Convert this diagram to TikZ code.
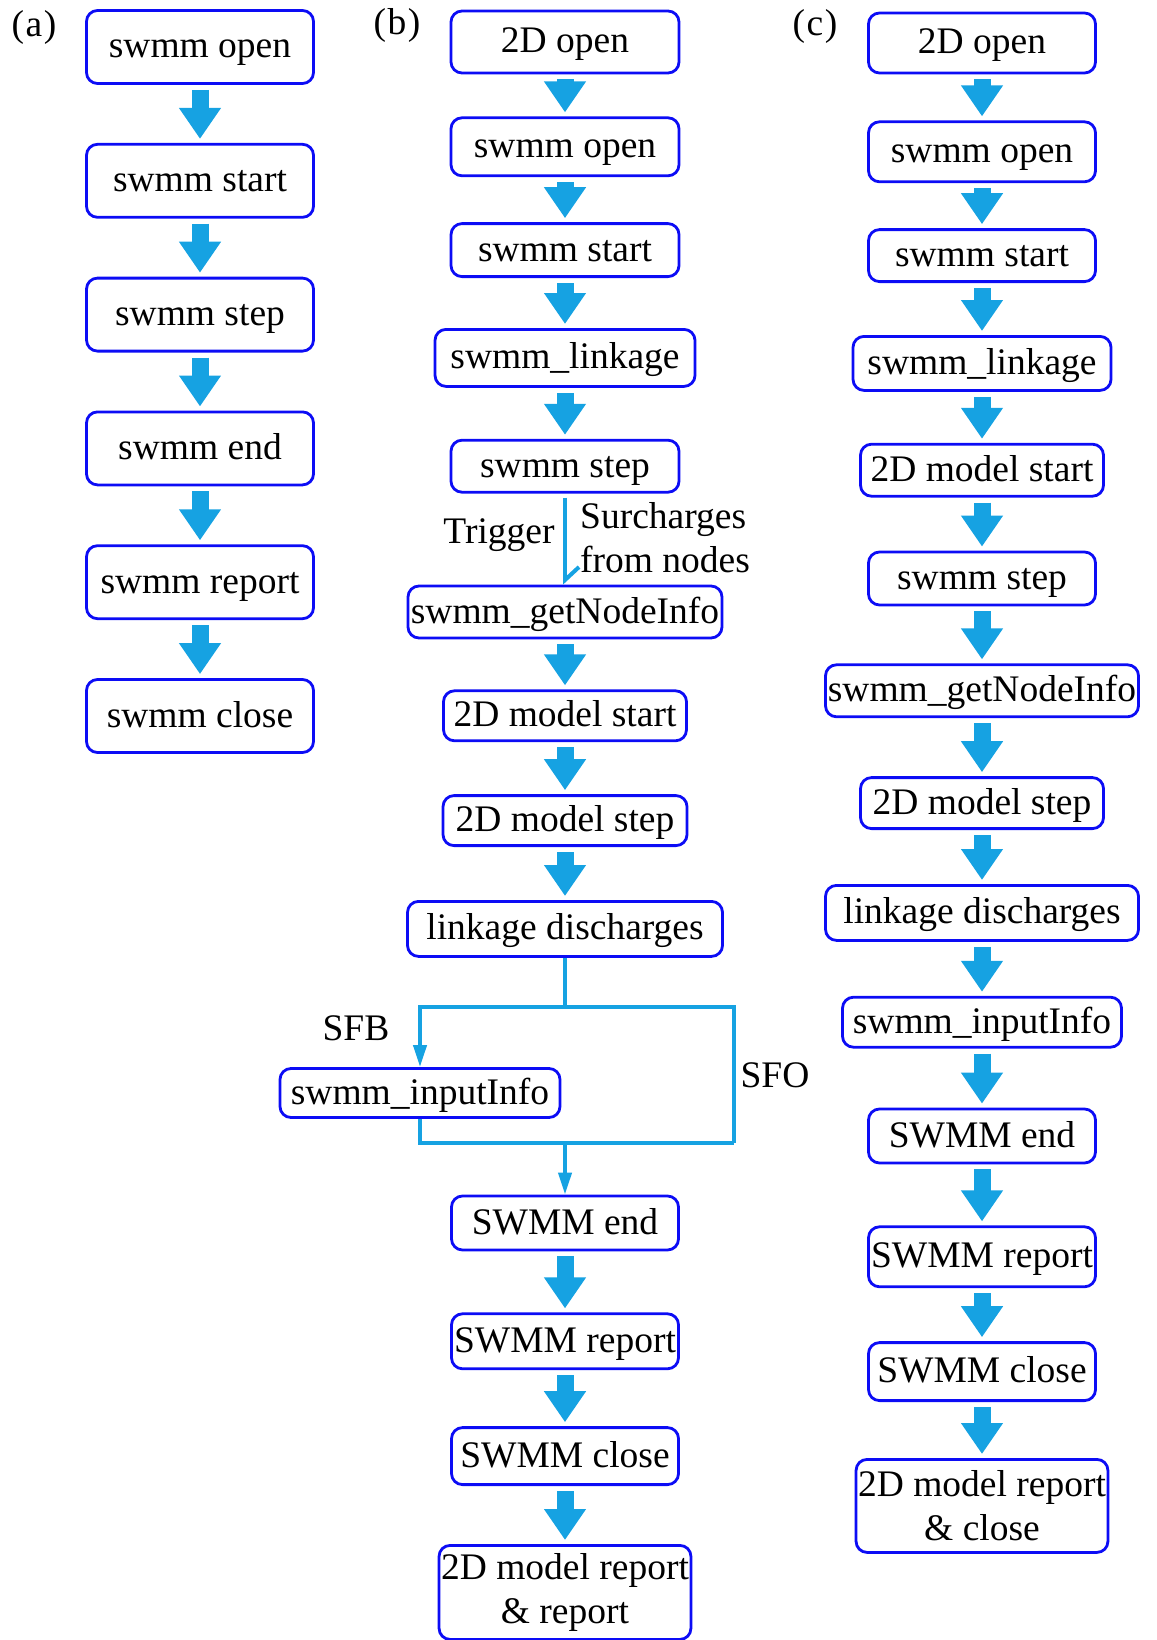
\documentclass[tikz,border=0pt]{standalone}
\usepackage{fontspec}
\setmainfont{Liberation Serif}
\usepackage{tikz}
\usetikzlibrary{arrows.meta,positioning}
\definecolor{boxblue}{RGB}{12,12,245}
\definecolor{flowblue}{RGB}{22,162,226}
\tikzstyle{proc}=[draw=boxblue,line width=2.8pt,rounded corners=11pt,inner xsep=2pt,inner ysep=2pt,align=center,text height=29pt,text depth=7pt,font=\fontsize{37.5}{44}\selectfont]
\tikzstyle{twoline}=[text height={},text depth={}]
\tikzstyle{flow}=[draw=flowblue,line width=17pt,-{Triangle[width=40pt,length=31pt]},shorten <=5pt,shorten >=4pt]
\tikzstyle{link}=[draw=flowblue,line width=4pt]
\tikzstyle{lbl}=[font=\fontsize{37.5}{44}\selectfont,inner sep=0pt]

\begin{document}
\begin{tikzpicture}[x=1pt,y=-1pt,node distance=58pt]
    \useasboundingbox (0,0) rectangle (1156,1640);

    % (a) plain swmm run
    \node (la) [lbl] at (34,27) {(\kern1.5pt a\kern1.5pt)};
    \node (a1) [proc, minimum width=227pt, minimum height=73pt] at (200,47) {swmm open};
    \node (a2) [proc, minimum width=227pt, minimum height=73pt] [below=of a1] {swmm start};
    \node (a3) [proc, minimum width=227pt, minimum height=73pt] [below=of a2] {swmm step};
    \node (a4) [proc, minimum width=227pt, minimum height=73pt] [below=of a3] {swmm end};
    \node (a5) [proc, minimum width=227pt, minimum height=73pt] [below=of a4] {swmm report};
    \node (a6) [proc, minimum width=227pt, minimum height=73pt] [below=of a5] {swmm close};

    \draw[flow] (a1) -- (a2);
    \draw[flow] (a2) -- (a3);
    \draw[flow] (a3) -- (a4);
    \draw[flow] (a4) -- (a5);
    \draw[flow] (a5) -- (a6);

    % (b) coupling with trigger
    \node (lb) [lbl] at (397,25) {(\kern1.5pt b\kern1.5pt)};
    \node (b1) [proc, minimum width=228pt, minimum height=62pt] at (565,42) {2D open};
    \node (b2) [proc, minimum width=228pt, minimum height=58pt] [below=42pt of b1] {swmm open};
    \node (b3) [proc, minimum width=228pt, minimum height=53pt] [below=45pt of b2] {swmm start};
    \node (b4) [proc, minimum width=260pt, minimum height=57pt] [below=50pt of b3] {swmm\_linkage};
    \node (b5) [proc, minimum width=228pt, minimum height=52pt] [below=51pt of b4] {swmm step};
    \node (b6) [proc, minimum width=314pt, minimum height=52pt] [below=91pt of b5] {swmm\_getNodeInfo};
    \node (b7) [proc, minimum width=243pt, minimum height=50pt] [below=50pt of b6] {2D model start};
    \node (b8) [proc, minimum width=244pt, minimum height=50pt] [below=52pt of b7] {2D model step};
    \node (b9) [proc, minimum width=315pt, minimum height=55pt] [below=53pt of b8] {linkage discharges};
    \node (bx) [proc, minimum width=280pt, minimum height=49pt] at (420,1093) {swmm\_inputInfo};
    \node (b10) [proc, minimum width=227pt, minimum height=54pt] at (565,1223) {SWMM end};
    \node (b11) [proc, minimum width=227pt, minimum height=55pt] [below=61pt of b10] {SWMM report};
    \node (b12) [proc, minimum width=227pt, minimum height=57pt] [below=56pt of b11] {SWMM close};
    \node (b13) [proc, twoline, minimum width=251pt, minimum height=94pt] [below=58pt of b12] {2D model report\\\& report};

    \node (trig) [lbl] at (499,535) {Trigger};
    \node (surch) [lbl, anchor=west, align=left] at (580,538) {Surcharges\\from nodes};
    \node (sfb) [lbl] at (356,1028) {SFB};
    \node (sfo) [lbl] at (775,1075) {SFO};

    \coordinate (sp) at (b9.south |- 0,1007);
    \coordinate (se) at (734,1143);
    \coordinate (jn) at (b9.south |- 0,1143);

    \draw[flow] (b1) -- (b2);
    \draw[flow] (b2) -- (b3);
    \draw[flow] (b3) -- (b4);
    \draw[flow] (b4) -- (b5);
    \draw[link, shorten <=4pt, -{Straight Barb[harpoon,length=13pt,width=28pt]}] (b5) -- (b6);
    \draw[flow] (b6) -- (b7);
    \draw[flow] (b7) -- (b8);
    \draw[flow] (b8) -- (b9);
    \draw[link] (b9.south) -- (sp);
    \draw[link, -{Triangle[width=13pt,length=22pt]}] (sp) -| (bx.north);
    \draw[link] (sp) -| (se);
    \draw[link] (bx.south) |- (se);
    \draw[link, -{Triangle[width=13pt,length=22pt]}] (jn) -- (b10.north);
    \draw[flow] (b10) -- (b11);
    \draw[flow] (b11) -- (b12);
    \draw[flow] (b12) -- (b13);

    % (c) coupling every step
    \node (lc) [lbl] at (815,26) {(\kern1.5pt c\kern1.5pt)};
    \node (c1) [proc, minimum width=227pt, minimum height=60pt] at (982,43) {2D open};
    \node (c2) [proc, minimum width=227pt, minimum height=60pt] [below=46pt of c1] {swmm open};
    \node (c3) [proc, minimum width=227pt, minimum height=52pt] [below=45pt of c2] {swmm start};
    \node (c4) [proc, minimum width=258pt, minimum height=54pt] [below=52pt of c3] {swmm\_linkage};
    \node (c5) [proc, minimum width=243pt, minimum height=52pt] [below=51pt of c4] {2D model start};
    \node (c6) [proc, minimum width=227pt, minimum height=53pt] [below=53pt of c5] {swmm step};
    \node (c7) [proc, minimum width=313pt, minimum height=52pt] [below=57pt of c6] {swmm\_getNodeInfo};
    \node (c8) [proc, minimum width=243pt, minimum height=51pt] [below=58pt of c7] {2D model step};
    \node (c9) [proc, minimum width=313pt, minimum height=55pt] [below=54pt of c8] {linkage discharges};
    \node (c10) [proc, minimum width=279pt, minimum height=50pt] [below=54pt of c9] {swmm\_inputInfo};
    \node (c11) [proc, minimum width=227pt, minimum height=54pt] [below=59pt of c10] {SWMM end};
    \node (c12) [proc, minimum width=227pt, minimum height=60pt] [below=61pt of c11] {SWMM report};
    \node (c13) [proc, minimum width=227pt, minimum height=58pt] [below=53pt of c12] {SWMM close};
    \node (c14) [proc, twoline, minimum width=250pt, minimum height=93pt] [below=56pt of c13] {2D model report\\\& close};

    \draw[flow] (c1) -- (c2);
    \draw[flow] (c2) -- (c3);
    \draw[flow] (c3) -- (c4);
    \draw[flow] (c4) -- (c5);
    \draw[flow] (c5) -- (c6);
    \draw[flow] (c6) -- (c7);
    \draw[flow] (c7) -- (c8);
    \draw[flow] (c8) -- (c9);
    \draw[flow] (c9) -- (c10);
    \draw[flow] (c10) -- (c11);
    \draw[flow] (c11) -- (c12);
    \draw[flow] (c12) -- (c13);
    \draw[flow] (c13) -- (c14);
\end{tikzpicture}
\end{document}
